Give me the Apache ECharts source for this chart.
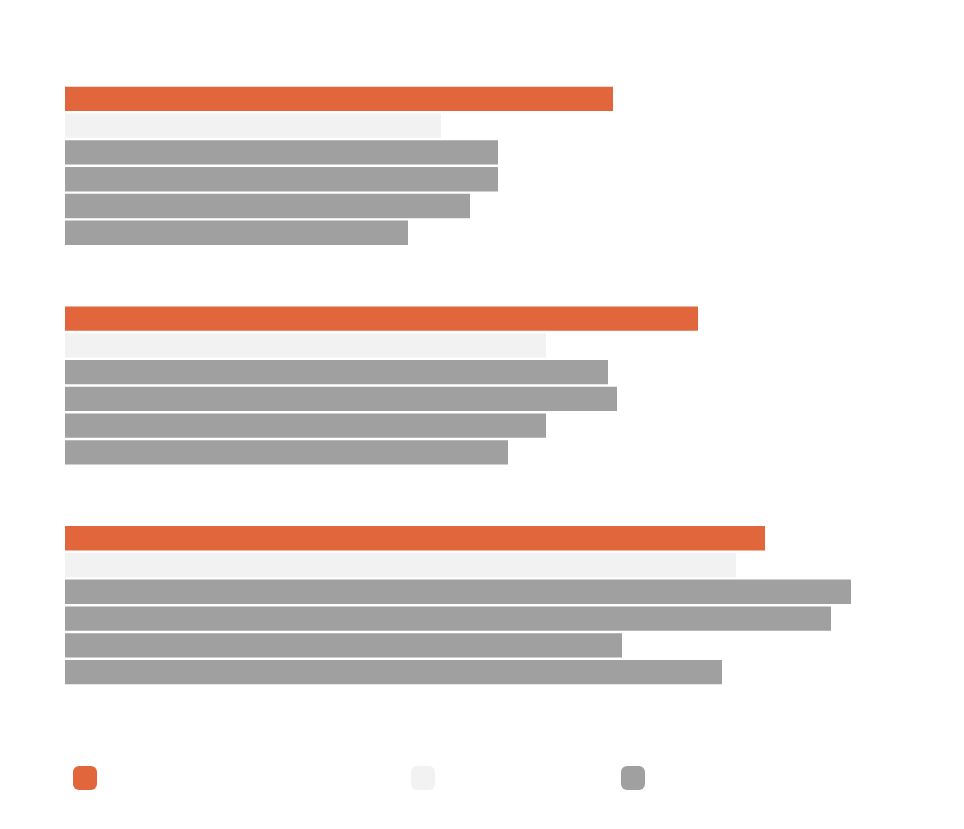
<!DOCTYPE html>
<html>
<head>
<meta charset="utf-8">
<script src="https://cdn.jsdelivr.net/npm/echarts@6/dist/echarts.min.js"></script>
<style>html,body{margin:0;background:#fff}#c{width:964px;height:829px}</style>
</head>
<body>
<div id="c"></div>
<script>
var categories = ['A', 'B', 'C'];
var seriesA = [548, 633, 700];
var seriesB = [376, 481, 671];
var seriesC1 = [433, 543, 786];
var seriesC2 = [433, 552, 766];
var seriesC3 = [405, 481, 557];
var seriesC4 = [343, 443, 657];

var ORANGE = '#E2663B', LIGHT = '#F2F2F2', GRAY = '#A0A0A0';

function bar(name, color, data) {
	return {
		name: name,
		type: 'bar',
		barGap: '10%',
		barCategoryGap: '28%',
		itemStyle: { color: color },
		data: data
	};
}

function legend(left, name) {
	return {
		left: left, top: 761,
		itemWidth: 24, itemHeight: 24,
		data: [name],
		formatter: function () { return ''; },
		selectedMode: false
	};
}

var myChart = echarts.init(document.getElementById('c'));
myChart.setOption({
	animation: false,
	grid: { left: 65, right: 19, top: 56, bottom: 114 },
	legend: [legend(68, 'A'), legend(406, 'B'), legend(616, 'C')],
	xAxis: { type: 'value', min: 0, max: 880, show: false },
	yAxis: { type: 'category', data: categories, inverse: true, show: false },
	series: [
		bar('A', ORANGE, seriesA),
		bar('B', LIGHT, seriesB),
		bar('C', GRAY, seriesC1),
		bar('C', GRAY, seriesC2),
		bar('C', GRAY, seriesC3),
		bar('C', GRAY, seriesC4)
	]
});
</script>
</body>
</html>
